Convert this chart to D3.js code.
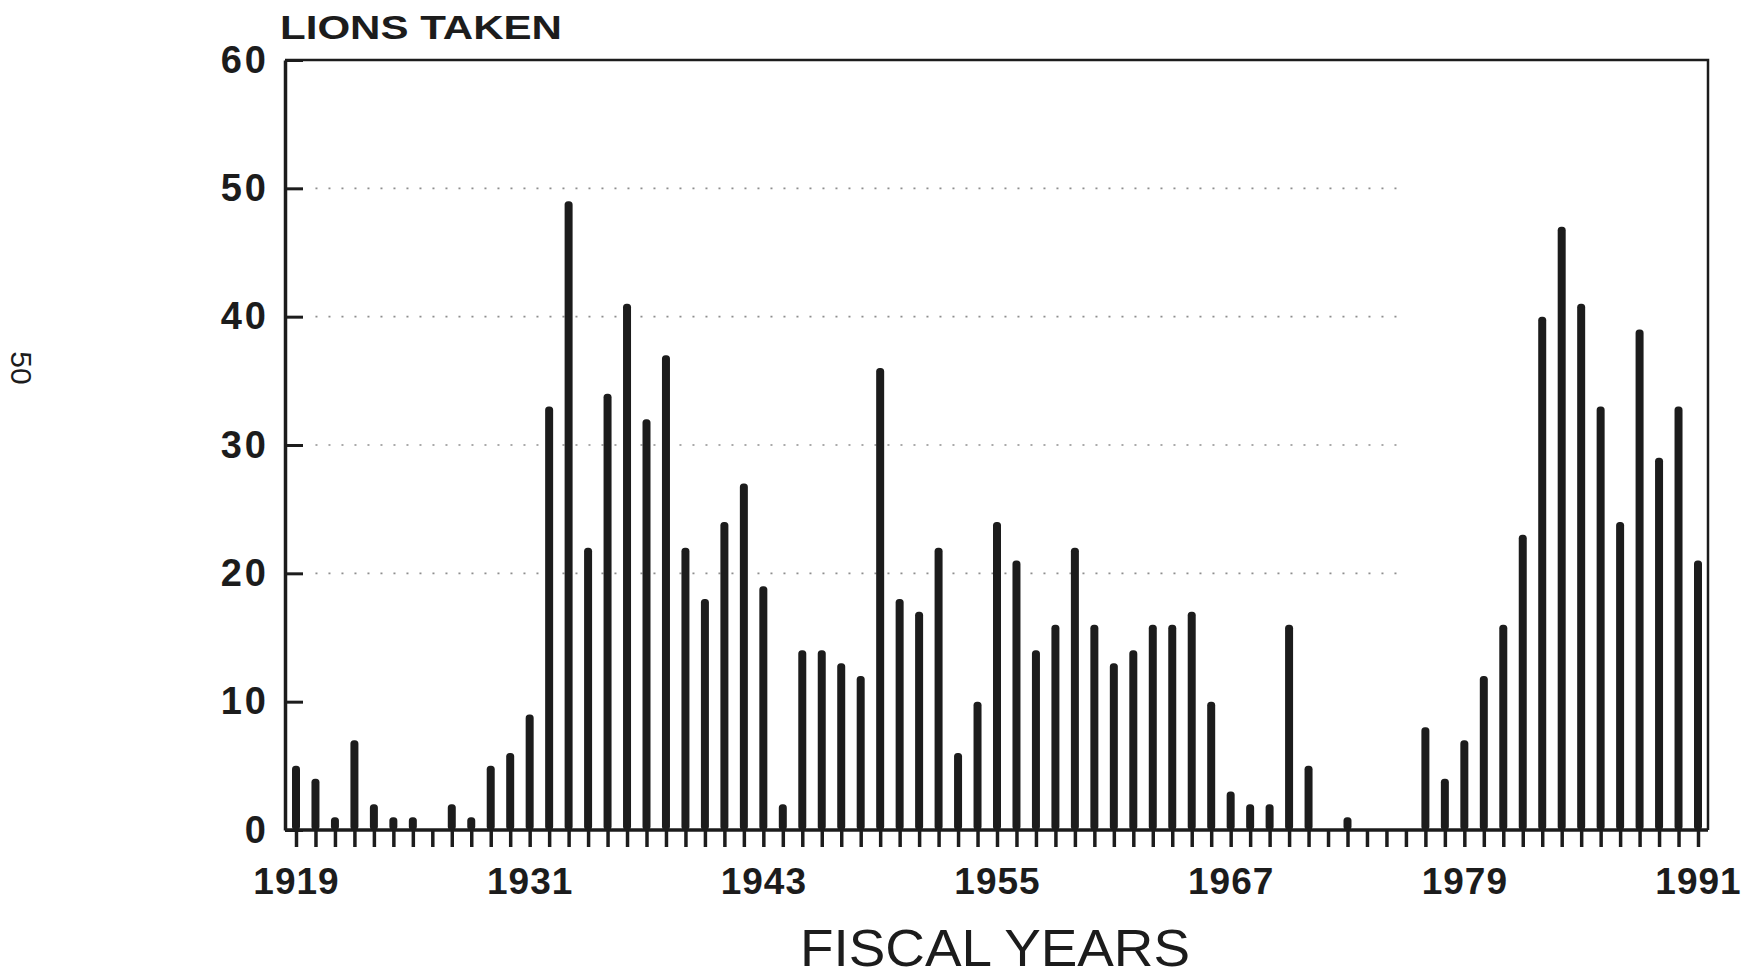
<!DOCTYPE html>
<html>
<head>
<meta charset="utf-8">
<script src="https://cdn.jsdelivr.net/npm/d3@7"></script>
<style>
  body { margin: 0; background: #fff; }
  svg { display: block; }
</style>
</head>
<body>
<svg id="lionsChart" width="1750" height="977"></svg>
<script>
// fiscal years, one bar each
var years = [
  1919, 1920, 1921, 1922, 1923, 1924, 1925, 1926, 1927, 1928,
  1929, 1930, 1931, 1932, 1933, 1934, 1935, 1936, 1937, 1938,
  1939, 1940, 1941, 1942, 1943, 1944, 1945, 1946, 1947, 1948,
  1949, 1950, 1951, 1952, 1953, 1954, 1955, 1956, 1957, 1958,
  1959, 1960, 1961, 1962, 1963, 1964, 1965, 1966, 1967, 1968,
  1969, 1970, 1971, 1972, 1973, 1974, 1975, 1976, 1977, 1978,
  1979, 1980, 1981, 1982, 1983, 1984, 1985, 1986, 1987, 1988,
  1989, 1990, 1991
];

// lions taken per year
var lionsTaken = [
  5, 4, 1, 7, 2, 1, 1, 0, 2, 1,
  5, 6, 9, 33, 49, 22, 34, 41, 32, 37,
  22, 18, 24, 27, 19, 2, 14, 14, 13, 12,
  36, 18, 17, 22, 6, 10, 24, 21, 14, 16,
  22, 16, 13, 14, 16, 16, 17, 10, 3, 2,
  2, 16, 5, 0, 1, 0, 0, 0, 8, 4,
  7, 12, 16, 23, 40, 47, 41, 33, 24, 39,
  29, 33, 21
];

var labeledYears = [1919, 1931, 1943, 1955, 1967, 1979, 1991];
var yTicks = [0, 10, 20, 30, 40, 50, 60];
var gridValues = [20, 30, 40, 50];

var data = years.map((d, i) => [d, lionsTaken[i]]);

var svg = d3.select("#lionsChart");
var ink = "#1c1c1c";
var font = "'Liberation Sans', Arial, sans-serif";

var left = 285, right = 1708;
var x = d3.scaleLinear().domain([1919, 1991]).range([296, 1698]),
    y = d3.scaleLinear().domain([0, 60]).range([830, 60]);

// faint dotted grid
svg.append("g")
    .selectAll("line")
    .data(gridValues)
    .enter().append("line")
      .attr("x1", x(1920))
      .attr("x2", x(1976))
      .attr("y1", d => y(d))
      .attr("y2", d => y(d))
      .attr("stroke", "#444")
      .attr("stroke-width", 1.6)
      .attr("stroke-dasharray", "2 11")
      .attr("opacity", 0.6);

// frame: top and right
svg.append("path")
    .attr("d", "M" + left + "," + y(60) + "H" + right + "V" + y(0))
    .attr("fill", "none")
    .attr("stroke", ink)
    .attr("stroke-width", 2.5);

// bars
svg.append("g")
    .selectAll(".bar")
    .data(data)
    .enter().append("rect")
      .attr("class", "bar")
      .attr("x", d => x(d[0]) - 4)
      .attr("y", d => y(d[1]))
      .attr("width", 8)
      .attr("height", d => y(0) - y(d[1]))
      .attr("rx", d => d[1] > 0 ? 3.5 : 0)
      .attr("fill", ink);

// x axis with a tick per year
var xAxis = svg.append("g")
    .attr("transform", "translate(0," + y(0) + ")")
    .call(d3.axisBottom(x)
      .tickValues(years)
      .tickSize(17)
      .tickPadding(21)
      .tickFormat(d => labeledYears.includes(d) ? String(d) : ""));
xAxis.select(".domain").remove();
xAxis.selectAll(".tick line").attr("stroke", ink).attr("stroke-width", 3.5);
xAxis.selectAll("text")
    .attr("fill", ink)
    .attr("letter-spacing", 1)
    .style("font-family", font)
    .style("font-size", "37px")
    .style("font-weight", "bold");

svg.append("line")
    .attr("x1", left).attr("x2", right)
    .attr("y1", y(0)).attr("y2", y(0))
    .attr("stroke", ink)
    .attr("stroke-width", 3.5);

// y axis, ticks point inward
var yAxis = svg.append("g")
    .attr("transform", "translate(" + left + ",0)")
    .call(d3.axisLeft(y)
      .tickValues(yTicks)
      .tickSize(-18)
      .tickSizeOuter(0)
      .tickPadding(16));
yAxis.select(".domain").attr("stroke", ink).attr("stroke-width", 3.5);
yAxis.selectAll(".tick line").attr("stroke", ink).attr("stroke-width", 3);
yAxis.selectAll("text")
    .attr("fill", ink)
    .attr("letter-spacing", 3)
    .style("font-family", font)
    .style("font-size", "38px")
    .style("font-weight", "bold");

// titles
svg.append("text")
    .attr("x", 280)
    .attr("y", 39)
    .attr("textLength", 282)
    .attr("lengthAdjust", "spacingAndGlyphs")
    .attr("fill", ink)
    .style("font-family", font)
    .style("font-size", "34px")
    .style("font-weight", "bold")
    .text("LIONS TAKEN");

svg.append("text")
    .attr("x", 800)
    .attr("y", 966)
    .attr("textLength", 390)
    .attr("lengthAdjust", "spacingAndGlyphs")
    .attr("fill", ink)
    .style("font-family", font)
    .style("font-size", "52px")
    .text("FISCAL YEARS");

// page number on the margin
svg.append("text")
    .attr("transform", "translate(11,368) rotate(90)")
    .attr("text-anchor", "middle")
    .attr("fill", ink)
    .style("font-family", font)
    .style("font-size", "30px")
    .text("50");
</script>
</body>
</html>
